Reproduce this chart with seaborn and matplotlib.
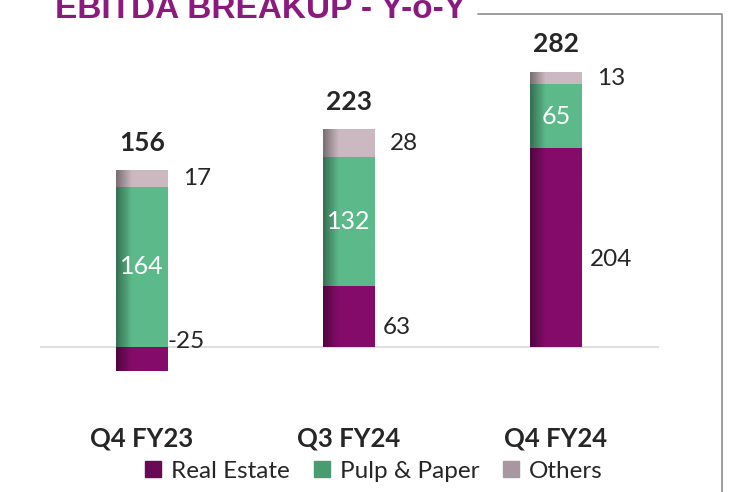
import seaborn as sns
import matplotlib.pyplot as plt
import numpy as np
import pandas as pd
from matplotlib.lines import Line2D
from matplotlib.patches import Patch
from matplotlib.colors import to_rgb

quarters = ["Q4 FY23", "Q3 FY24", "Q4 FY24"]
real_estate = [-25, 63, 204]
pulp_paper = [164, 132, 65]
others = [17, 28, 13]
totals = [156, 223, 282]

c_re = "#850b6a"
c_pp = "#5cb98a"
c_ot = "#cbb8c0"

sns.set_style("white")
plt.rcParams['font.family'] = ['Lato', 'DejaVu Sans']

re_pos = np.maximum(real_estate, 0)
df = pd.DataFrame({
    "quarter": quarters,
    "re": real_estate,
    "pp_top": re_pos + np.array(pulp_paper),
    "ot_top": re_pos + np.array(pulp_paper) + np.array(others),
})

W, H = 732, 492
fig = plt.figure(figsize=(W / 100, H / 100), dpi=100)
px = 0.976  # pixels per unit
ax = fig.add_axes([40 / W, (H - 400) / H, 619 / W, 370 / H])

# draw stacked bars back to front
for col, color in [("ot_top", c_ot), ("pp_top", c_pp), ("re", c_re)]:
    sns.barplot(data=df, x="quarter", y=col, order=quarters, color=color,
                width=0.25, saturation=1, ax=ax, linewidth=0)

# darker left edge shading like the original
for k, p in enumerate(list(ax.patches)):
    base = np.array(to_rgb(p.get_facecolor()))
    t = np.linspace(0, 1, 60)
    f = 0.6 + 0.4 * np.clip(t / 0.3, 0, 1)
    img = np.repeat((base[None, :] * f[:, None])[None, :, :], 2, axis=0)
    x0, y0 = p.get_x(), p.get_y()
    y1 = y0 + p.get_height()
    im = ax.imshow(img, extent=[x0, x0 + p.get_width(), min(y0, y1), max(y0, y1)],
                   aspect="auto", zorder=2 + k * 0.01, interpolation="bilinear")
    im.set_clip_path(p)

ax.set_xlim(-0.493, 2.498)
ax.set_ylim(-53 / px, 317 / px)
ax.axhline(0, color="#d9d9d9", lw=1.2, zorder=0)
sns.despine(ax=ax, left=True, bottom=True)
ax.set_yticks([])
ax.set_xlabel("")
ax.set_ylabel("")
ax.tick_params(axis="x", length=0, pad=19)
for lbl in ax.get_xticklabels():
    lbl.set_fontweight("bold")
    lbl.set_fontsize(18.5)

for i in range(len(quarters)):
    top = df["ot_top"][i]
    ppb = re_pos[i]
    # others label
    ax.text(i + 0.125 + 0.075, top - others[i] / 2, str(others[i]),
            ha="left", va="center", fontsize=17.5, zorder=5)
    # pulp label
    ax.text(i, ppb + pulp_paper[i] / 2, str(pulp_paper[i]),
            ha="center", va="center", fontsize=18, color="white", zorder=5)
    # real estate label
    ax.text(i + 0.125 + (0.0 if real_estate[i] < 0 else 0.04),
            max(real_estate[i] / 2 - 12, 6), str(real_estate[i]),
            ha="left", va="center", fontsize=17.5, zorder=5)
    # total
    ax.text(i, top + 28, str(totals[i]), ha="center", va="center",
            fontsize=19, fontweight="bold", zorder=5)

handles = [Patch(color="#6a0a56"), Patch(color="#489c70"), Patch(color="#a8979f")]
fig.legend(handles, ["Real Estate", "Pulp & Paper", "Others"],
           loc="center", bbox_to_anchor=(374 / W, 1 - 471 / H), ncol=3,
           frameon=False, fontsize=17.5, handlelength=0.65, handleheight=0.65,
           handletextpad=0.4, columnspacing=1.0)

fig.text(55 / W, 1 - 18 / H, "EBITDA BREAKUP - Y-o-Y", color="#8b1a7e",
         fontsize=24, fontweight="bold", family=["Liberation Sans"],
         va="baseline", ha="left")
fig.add_artist(Line2D([478 / W, 722 / W, 722 / W],
                      [1 - 14 / H, 1 - 14 / H, 0], color="#8c8c8c", lw=1.2))

fig.savefig("out.png", dpi=100)
